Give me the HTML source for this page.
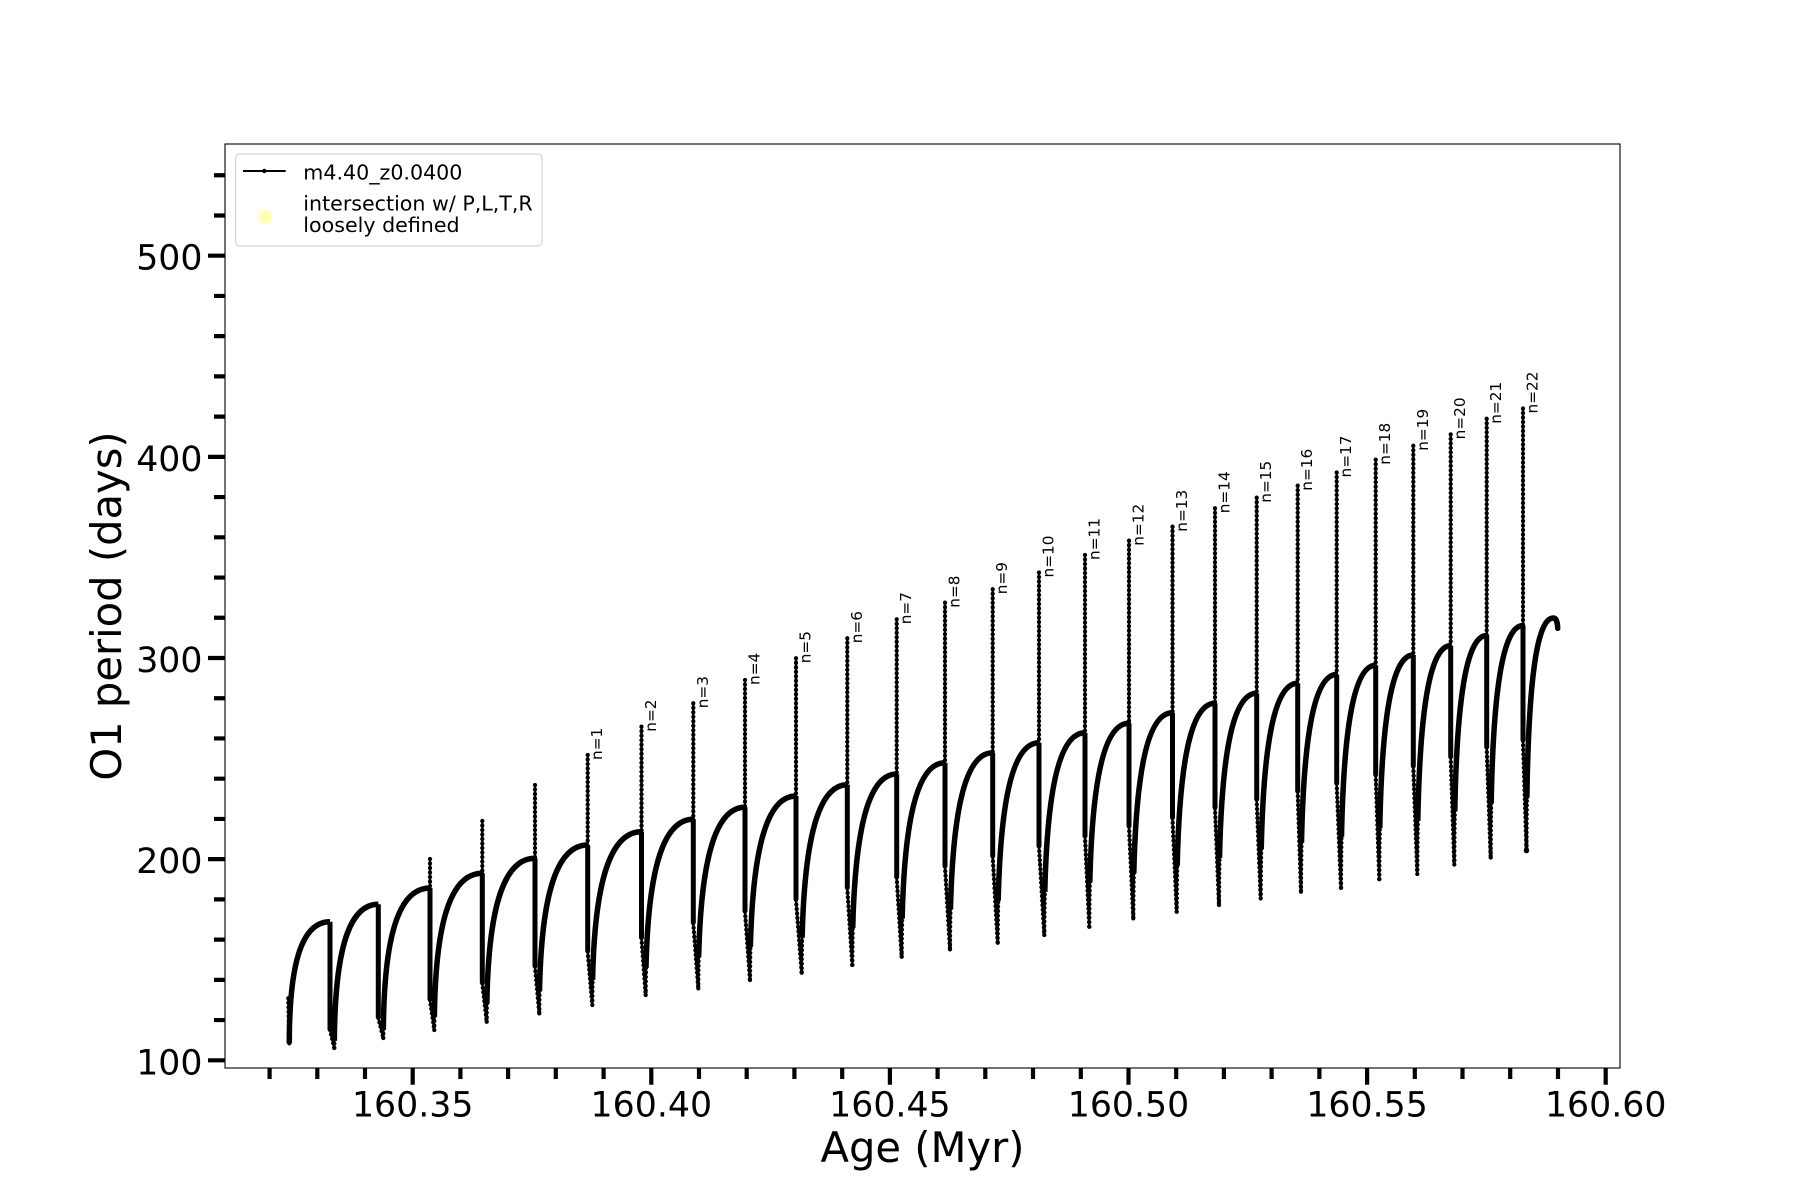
<!DOCTYPE html>
<html>
<head>
<meta charset="utf-8">
<style>
  html, body { margin: 0; padding: 0; background: #ffffff; }
  svg { display: block; }
  text { font-family: "DejaVu Sans", "Liberation Sans", sans-serif; fill: #000; }
  .thick path { fill: none; stroke: #000; stroke-width: 5.5; stroke-linejoin: round; }
</style>
</head>
<body>
<svg width="1800" height="1200" viewBox="0 0 1800 1200" xmlns="http://www.w3.org/2000/svg">
  <rect x="0" y="0" width="1800" height="1200" fill="#ffffff"/>

  <!-- thin spike / V lines -->
  <path fill="none" stroke="#000" stroke-width="2.4" d="
    M288.3,998.3 L289.3,1043.3
    M330,1030 L334.3,1048
    M378.3,1018 L383.3,1038
    M430,859 V888 M430,1000 L434.3,1030
    M482.3,821 V873.3 M482.3,983.3 L486.7,1021.7
    M535,785 V858.3 M535,966.7 L539.3,1013.3
    M587.7,755 V845 M587.7,951.7 L592.3,1005
    M641.5,726.7 V831.7 M641.5,938.3 L645.7,995
    M693.3,703.3 V819.3 M693.3,923.3 L698.3,988.3
    M745,680 V807.3 M745,911.7 L750,980
    M796,658.3 V796 M796,900 L801.7,972.7
    M847.3,638.3 V784.7 M847.3,888.3 L852.3,965
    M896.7,619.3 V774 M896.7,877.7 L901.7,956.7
    M945,602.7 V762.7 M945,866.7 L950,949.3
    M992.7,589.3 V752.7 M992.7,856.7 L997.7,942.7
    M1039,572.5 V742.7 M1039,846.7 L1044.3,935
    M1085,555 V732.7 M1085,836.7 L1089.3,926.7
    M1129,540.7 V723.3 M1129,826.7 L1133.3,918.3
    M1172.5,526.7 V712.7 M1172.5,818.3 L1176.7,911.7
    M1215,508.3 V703.3 M1215,808.3 L1219,905
    M1256.7,497.7 V693.3 M1256.7,800 L1260.7,898.3
    M1297.7,485.7 V683.3 M1297.7,791.7 L1301,891.7
    M1336.7,472.5 V674.5 M1336.7,784 L1341,887.9
    M1375.7,459.7 V665.3 M1375.7,775.4 L1379.3,879.2
    M1413.3,445.8 V655 M1413.3,766.7 L1417.3,874
    M1450.7,434.4 V645.6 M1450.7,757.5 L1454.3,864.5
    M1486.7,418.8 V635.5 M1486.7,747.7 L1490.7,857.5
    M1523,408.5 V625.5 M1523,740.8 L1526.5,850.5"/>

  <!-- thin rising curves (full) -->
  <path fill="none" stroke="#000" stroke-width="2.4" d="
    M334.3,1048C334.3,961.8 345.3,904.3 378.3,904.3
    M383.3,1038C383.3,948 395,888 430,888
    M434.3,1030C434.3,936 446.3,873.3 482.3,873.3
    M486.7,1021.7C486.7,923.7 498.8,858.3 535,858.3
    M539.3,1013.3C539.3,912.3 551.4,845 587.7,845
    M592.3,1005C592.3,901 604.6,831.7 641.5,831.7
    M645.7,995C645.7,889.6 657.6,819.3 693.3,819.3
    M698.3,988.3C698.3,879.7 710,807.3 745,807.3
    M750,980C750,869.6 761.5,796 796,796
    M801.7,972.7C801.7,859.9 813.1,784.7 847.3,784.7
    M852.3,965C852.3,850.4 863.4,774 896.7,774
    M901.7,956.7C901.7,840.3 912.5,762.7 945,762.7
    M950,949.3C950,831.3 960.7,752.7 992.7,752.7
    M997.7,942.7C997.7,822.7 1008,742.7 1039,742.7
    M1044.3,935C1044.3,813.6 1054.5,732.7 1085,732.7
    M1089.3,926.7C1089.3,804.7 1099.2,723.3 1129,723.3
    M1133.3,918.3C1133.3,794.9 1143.1,712.7 1172.5,712.7
    M1176.7,911.7C1176.7,786.7 1186.3,703.3 1215,703.3
    M1219,905C1219,778 1228.4,693.3 1256.7,693.3
    M1260.7,898.3C1260.7,769.3 1269.9,683.3 1297.7,683.3
    M1301,891.7C1301,761.4 1309.9,674.5 1336.7,674.5
    M1341,887.9C1341,754.3 1349.7,665.3 1375.7,665.3
    M1379.3,879.2C1379.3,744.7 1387.8,655 1413.3,655
    M1417.3,874C1417.3,737 1425.7,645.6 1450.7,645.6
    M1454.3,864.5C1454.3,727.1 1462.4,635.5 1486.7,635.5
    M1490.7,857.5C1490.7,718.3 1498.8,625.5 1523,625.5
    M1526.5,850.5C1526.5,711 1533.2,618 1553.3,618"/>

  <!-- dotted markers along spikes and low parts -->
  <path fill="none" stroke="#000" stroke-width="4.3" stroke-linecap="round" stroke-dasharray="0 4.5" d="
    M288.3,998.3 L289.3,1043.3
    M330,1030 L334.3,1048
    M378.3,1018 L383.3,1038
    M430,859 V888 M430,1000 L434.3,1030
    M482.3,821 V873.3 M482.3,983.3 L486.7,1021.7
    M535,785 V858.3 M535,966.7 L539.3,1013.3
    M587.7,755 V845 M587.7,951.7 L592.3,1005
    M641.5,726.7 V831.7 M641.5,938.3 L645.7,995
    M693.3,703.3 V819.3 M693.3,923.3 L698.3,988.3
    M745,680 V807.3 M745,911.7 L750,980
    M796,658.3 V796 M796,900 L801.7,972.7
    M847.3,638.3 V784.7 M847.3,888.3 L852.3,965
    M896.7,619.3 V774 M896.7,877.7 L901.7,956.7
    M945,602.7 V762.7 M945,866.7 L950,949.3
    M992.7,589.3 V752.7 M992.7,856.7 L997.7,942.7
    M1039,572.5 V742.7 M1039,846.7 L1044.3,935
    M1085,555 V732.7 M1085,836.7 L1089.3,926.7
    M1129,540.7 V723.3 M1129,826.7 L1133.3,918.3
    M1172.5,526.7 V712.7 M1172.5,818.3 L1176.7,911.7
    M1215,508.3 V703.3 M1215,808.3 L1219,905
    M1256.7,497.7 V693.3 M1256.7,800 L1260.7,898.3
    M1297.7,485.7 V683.3 M1297.7,791.7 L1301,891.7
    M1336.7,472.5 V674.5 M1336.7,784 L1341,887.9
    M1375.7,459.7 V665.3 M1375.7,775.4 L1379.3,879.2
    M1413.3,445.8 V655 M1413.3,766.7 L1417.3,874
    M1450.7,434.4 V645.6 M1450.7,757.5 L1454.3,864.5
    M1486.7,418.8 V635.5 M1486.7,747.7 L1490.7,857.5
    M1523,408.5 V625.5 M1523,740.8 L1526.5,850.5"/>
  <path fill="none" stroke="#000" stroke-width="4.3" stroke-linecap="round" stroke-dasharray="0 4.5" d="
    M334.3,1048C334.3,961.8 345.3,904.3 378.3,904.3
    M383.3,1038C383.3,948 395,888 430,888
    M434.3,1030C434.3,936 446.3,873.3 482.3,873.3
    M486.7,1021.7C486.7,923.7 498.8,858.3 535,858.3
    M539.3,1013.3C539.3,912.3 551.4,845 587.7,845
    M592.3,1005C592.3,901 604.6,831.7 641.5,831.7
    M645.7,995C645.7,889.6 657.6,819.3 693.3,819.3
    M698.3,988.3C698.3,879.7 710,807.3 745,807.3
    M750,980C750,869.6 761.5,796 796,796
    M801.7,972.7C801.7,859.9 813.1,784.7 847.3,784.7
    M852.3,965C852.3,850.4 863.4,774 896.7,774
    M901.7,956.7C901.7,840.3 912.5,762.7 945,762.7
    M950,949.3C950,831.3 960.7,752.7 992.7,752.7
    M997.7,942.7C997.7,822.7 1008,742.7 1039,742.7
    M1044.3,935C1044.3,813.6 1054.5,732.7 1085,732.7
    M1089.3,926.7C1089.3,804.7 1099.2,723.3 1129,723.3
    M1133.3,918.3C1133.3,794.9 1143.1,712.7 1172.5,712.7
    M1176.7,911.7C1176.7,786.7 1186.3,703.3 1215,703.3
    M1219,905C1219,778 1228.4,693.3 1256.7,693.3
    M1260.7,898.3C1260.7,769.3 1269.9,683.3 1297.7,683.3
    M1301,891.7C1301,761.4 1309.9,674.5 1336.7,674.5
    M1341,887.9C1341,754.3 1349.7,665.3 1375.7,665.3
    M1379.3,879.2C1379.3,744.7 1387.8,655 1413.3,655
    M1417.3,874C1417.3,737 1425.7,645.6 1450.7,645.6
    M1454.3,864.5C1454.3,727.1 1462.4,635.5 1486.7,635.5
    M1490.7,857.5C1490.7,718.3 1498.8,625.5 1523,625.5
    M1526.5,850.5C1526.5,711 1533.2,618 1553.3,618"/>

  <!-- thick drop segments (plateau to low) -->
  <path fill="none" stroke="#000" stroke-width="5" d="
    M330,921.7V1030 M378.3,904.3V1018 M430,888V1000 M482.3,873.3V983.3 M535,858.3V966.7
    M587.7,845V951.7 M641.5,831.7V938.3 M693.3,819.3V923.3 M745,807.3V911.7 M796,796V900
    M847.3,784.7V888.3 M896.7,774V877.7 M945,762.7V866.7 M992.7,752.7V856.7 M1039,742.7V846.7
    M1085,732.7V836.7 M1129,723.3V826.7 M1172.5,712.7V818.3 M1215,703.3V808.3 M1256.7,693.3V800
    M1297.7,683.3V791.7 M1336.7,674.5V784 M1375.7,665.3V775.4 M1413.3,655V766.7 M1450.7,645.6V757.5
    M1486.7,635.5V747.7 M1523,625.5V740.8"/>

  <!-- thick rising curves, starting a little above the minimum -->
  <g class="thick">
    <path d="M289.3,1043.3C289.3,970.3 299.5,921.7 330,921.7"/>
    <path stroke-dasharray="0 7 3000" d="M334.3,1048C334.3,961.8 345.3,904.3 378.3,904.3"/>
    <path stroke-dasharray="0 8 3000" d="M383.3,1038C383.3,948 395,888 430,888"/>
    <path stroke-dasharray="0 13 3000" d="M434.3,1030C434.3,936 446.3,873.3 482.3,873.3"/>
    <path stroke-dasharray="0 18 3000" d="M486.7,1021.7C486.7,923.7 498.8,858.3 535,858.3"/>
    <path stroke-dasharray="0 22 3000" d="M539.3,1013.3C539.3,912.3 551.4,845 587.7,845"/>
    <path stroke-dasharray="0 25 3000" d="M592.3,1005C592.3,901 604.6,831.7 641.5,831.7"/>
    <path stroke-dasharray="0 27 3000" d="M645.7,995C645.7,889.6 657.6,819.3 693.3,819.3"/>
    <path stroke-dasharray="0 31 3000" d="M698.3,988.3C698.3,879.7 710,807.3 745,807.3"/>
    <path stroke-dasharray="0 33 3000" d="M750,980C750,869.6 761.5,796 796,796"/>
    <path stroke-dasharray="0 35 3000" d="M801.7,972.7C801.7,859.9 813.1,784.7 847.3,784.7"/>
    <path stroke-dasharray="0 37 3000" d="M852.3,965C852.3,850.4 863.4,774 896.7,774"/>
    <path stroke-dasharray="0 38 3000" d="M901.7,956.7C901.7,840.3 912.5,762.7 945,762.7"/>
    <path stroke-dasharray="0 40 3000" d="M950,949.3C950,831.3 960.7,752.7 992.7,752.7"/>
    <path stroke-dasharray="0 42 3000" d="M997.7,942.7C997.7,822.7 1008,742.7 1039,742.7"/>
    <path stroke-dasharray="0 43 3000" d="M1044.3,935C1044.3,813.6 1054.5,732.7 1085,732.7"/>
    <path stroke-dasharray="0 44 3000" d="M1089.3,926.7C1089.3,804.7 1099.2,723.3 1129,723.3"/>
    <path stroke-dasharray="0 45 3000" d="M1133.3,918.3C1133.3,794.9 1143.1,712.7 1172.5,712.7"/>
    <path stroke-dasharray="0 46 3000" d="M1176.7,911.7C1176.7,786.7 1186.3,703.3 1215,703.3"/>
    <path stroke-dasharray="0 47 3000" d="M1219,905C1219,778 1228.4,693.3 1256.7,693.3"/>
    <path stroke-dasharray="0 49 3000" d="M1260.7,898.3C1260.7,769.3 1269.9,683.3 1297.7,683.3"/>
    <path stroke-dasharray="0 49 3000" d="M1301,891.7C1301,761.4 1309.9,674.5 1336.7,674.5"/>
    <path stroke-dasharray="0 51 3000" d="M1341,887.9C1341,754.3 1349.7,665.3 1375.7,665.3"/>
    <path stroke-dasharray="0 51 3000" d="M1379.3,879.2C1379.3,744.7 1387.8,655 1413.3,655"/>
    <path stroke-dasharray="0 53 3000" d="M1417.3,874C1417.3,737 1425.7,645.6 1450.7,645.6"/>
    <path stroke-dasharray="0 53 3000" d="M1454.3,864.5C1454.3,727.1 1462.4,635.5 1486.7,635.5"/>
    <path stroke-dasharray="0 54 3000" d="M1490.7,857.5C1490.7,718.3 1498.8,625.5 1523,625.5"/>
    <path stroke-dasharray="0 54 3000" stroke-linecap="round" d="M1526.5,850.5C1526.5,711 1533.2,618 1553.3,618 C1555.5,618 1557.5,621 1557.7,628.3"/>
  </g>

  <!-- n= labels -->
  <g font-size="15.3">
    <text transform="translate(602.2,760) rotate(-90)">n=1</text>
    <text transform="translate(656,731.7) rotate(-90)">n=2</text>
    <text transform="translate(707.8,708.3) rotate(-90)">n=3</text>
    <text transform="translate(759.5,685) rotate(-90)">n=4</text>
    <text transform="translate(810.5,663.3) rotate(-90)">n=5</text>
    <text transform="translate(861.8,643.3) rotate(-90)">n=6</text>
    <text transform="translate(911.2,624.3) rotate(-90)">n=7</text>
    <text transform="translate(959.5,607.7) rotate(-90)">n=8</text>
    <text transform="translate(1007.2,594.3) rotate(-90)">n=9</text>
    <text transform="translate(1053.5,577.5) rotate(-90)">n=10</text>
    <text transform="translate(1099.5,560) rotate(-90)">n=11</text>
    <text transform="translate(1143.5,545.7) rotate(-90)">n=12</text>
    <text transform="translate(1187,531.7) rotate(-90)">n=13</text>
    <text transform="translate(1229.5,513.3) rotate(-90)">n=14</text>
    <text transform="translate(1271.2,502.7) rotate(-90)">n=15</text>
    <text transform="translate(1312.2,490.7) rotate(-90)">n=16</text>
    <text transform="translate(1351.2,477.5) rotate(-90)">n=17</text>
    <text transform="translate(1390.2,464.7) rotate(-90)">n=18</text>
    <text transform="translate(1427.8,450.8) rotate(-90)">n=19</text>
    <text transform="translate(1465.2,439.4) rotate(-90)">n=20</text>
    <text transform="translate(1501.2,423.8) rotate(-90)">n=21</text>
    <text transform="translate(1537.5,413.5) rotate(-90)">n=22</text>
  </g>

  <!-- axes frame -->
  <rect x="225" y="144" width="1395" height="924" fill="none" stroke="#000" stroke-width="1.1"/>

  <!-- x ticks -->
  <path fill="none" stroke="#000" stroke-width="4.2" d="
    M412.7,1068V1084.7 M651.3,1068V1084.7 M889.9,1068V1084.7 M1128.5,1068V1084.7 M1367.1,1068V1084.7 M1605.7,1068V1084.7
    M269.6,1068V1079 M317.3,1068V1079 M365,1068V1079
    M460.4,1068V1079 M508.1,1068V1079 M555.8,1068V1079 M603.6,1068V1079
    M699,1068V1079 M746.7,1068V1079 M794.4,1068V1079 M842.2,1068V1079
    M937.6,1068V1079 M985.3,1068V1079 M1033,1068V1079 M1080.8,1068V1079
    M1176.2,1068V1079 M1223.9,1068V1079 M1271.6,1068V1079 M1319.4,1068V1079
    M1414.8,1068V1079 M1462.5,1068V1079 M1510.2,1068V1079 M1558,1068V1079"/>

  <!-- y ticks -->
  <path fill="none" stroke="#000" stroke-width="4.2" d="
    M208,1060.3H225 M208,859.15H225 M208,658H225 M208,456.85H225 M208,255.7H225
    M214,1020.07H225 M214,979.84H225 M214,939.61H225 M214,899.38H225
    M214,818.92H225 M214,778.69H225 M214,738.46H225 M214,698.23H225
    M214,617.77H225 M214,577.54H225 M214,537.31H225 M214,497.08H225
    M214,416.62H225 M214,376.39H225 M214,336.16H225 M214,295.93H225
    M214,215.47H225 M214,175.24H225"/>

  <!-- x tick labels -->
  <g font-size="34.72" text-anchor="middle">
    <text x="412.7" y="1116.7">160.35</text>
    <text x="651.3" y="1116.7">160.40</text>
    <text x="889.9" y="1116.7">160.45</text>
    <text x="1128.5" y="1116.7">160.50</text>
    <text x="1367.1" y="1116.7">160.55</text>
    <text x="1605.7" y="1116.7">160.60</text>
  </g>

  <!-- y tick labels -->
  <g font-size="34.72" text-anchor="end">
    <text x="202.5" y="1074.3">100</text>
    <text x="202.5" y="873.15">200</text>
    <text x="202.5" y="672">300</text>
    <text x="202.5" y="470.85">400</text>
    <text x="202.5" y="269.7">500</text>
  </g>

  <!-- axis labels -->
  <text x="922.5" y="1162" font-size="41.67" text-anchor="middle">Age (Myr)</text>
  <text transform="translate(121,606) rotate(-90)" font-size="41.67" text-anchor="middle">O1 period (days)</text>

  <!-- legend -->
  <rect x="235.7" y="154" width="306.3" height="92" rx="4" ry="4" fill="#ffffff" fill-opacity="0.8" stroke="#cccccc" stroke-width="1"/>
  <line x1="243" y1="171" x2="285.7" y2="171" stroke="#000" stroke-width="2"/>
  <circle cx="264.3" cy="171" r="2.2" fill="#000"/>
  <text x="303.3" y="179.3" font-size="20.6">m4.40_z0.0400</text>
  <circle cx="265.3" cy="216.7" r="7.2" fill="#ffffb8"/>
  <text x="303.3" y="210.5" font-size="20.6">intersection w/ P,L,T,R</text>
  <text x="303.3" y="232.2" font-size="20.6">loosely defined</text>
</svg>
</body>
</html>
